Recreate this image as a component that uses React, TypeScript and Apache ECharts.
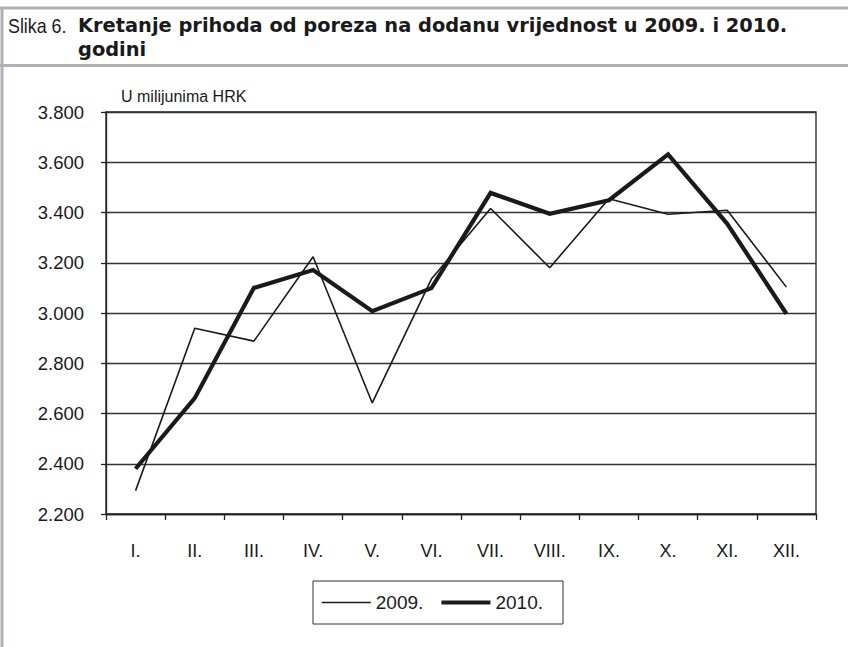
import React, { useEffect, useRef } from "react";
import * as echarts from "echarts";

const months = ["I.", "II.", "III.", "IV.", "V.", "VI.", "VII.", "VIII.", "IX.", "X.", "XI.", "XII."];
const values2009 = [2293, 2939, 2888, 3224, 2642, 3135, 3416, 3180, 3455, 3393, 3409, 3103];
const values2010 = [2380, 2661, 3100, 3171, 3007, 3099, 3478, 3395, 3449, 3631, 3355, 2997];
const seriesNames = ["2009.", "2010."];
const yMin = 2200;
const yMax = 3800;
const yStep = 200;

const titlePrefix = "Slika 6.";
const titleLine1 = "Kretanje prihoda od poreza na dodanu vrijednost u 2009. i 2010.";
const titleLine2 = "godini";
const unitLabel = "U milijunima HRK";

export default function App() {
  const ref = useRef<HTMLDivElement>(null);
  useEffect(() => {
    if (!ref.current) return;
    const chart = echarts.init(ref.current, undefined, { renderer: "svg" });
    const ink = "#1a1a1a";
    const frame = "#aeb0b6";
    const thin = 1.6;
    const thick = 4.2;
    chart.setOption({
      animation: false,
      backgroundColor: "#ffffff",
      textStyle: { fontFamily: "Liberation Sans, Arial, sans-serif" },
      graphic: [
        { type: "line", shape: { x1: 0, y1: 8, x2: 848, y2: 8 }, style: { stroke: frame, lineWidth: 3 } },
        { type: "line", shape: { x1: 0, y1: 65.5, x2: 848, y2: 65.5 }, style: { stroke: frame, lineWidth: 3 } },
        { type: "line", shape: { x1: 2, y1: 7, x2: 2, y2: 647 }, style: { stroke: frame, lineWidth: 3 } },
        {
          type: "text", x: 8, y: 25, scaleX: 0.85,
          style: { text: titlePrefix, fill: ink, font: "21px 'Liberation Sans', Arial, sans-serif", verticalAlign: "middle" },
        },
        {
          type: "text", x: 78, y: 25,
          style: { text: titleLine1, fill: ink, font: "bold 19.4px 'DejaVu Sans', sans-serif", verticalAlign: "middle" },
        },
        {
          type: "text", x: 78, y: 49,
          style: { text: titleLine2, fill: ink, font: "bold 19.4px 'DejaVu Sans', sans-serif", verticalAlign: "middle" },
        },
        {
          type: "text", x: 121, y: 96,
          style: { text: unitLabel, fill: ink, font: "16px 'Liberation Sans', Arial, sans-serif", verticalAlign: "middle" },
        },
      ],
      grid: {
        left: 106, top: 112, right: 32, bottom: 133,
        show: true, borderColor: "#222", borderWidth: 1.3, backgroundColor: "transparent",
      },
      legend: {
        data: [
          { name: seriesNames[0], lineStyle: { width: thin, color: ink } },
          { name: seriesNames[1], lineStyle: { width: thick, color: ink } },
        ],
        left: 313, top: 581,
        orient: "horizontal",
        borderColor: "#333", borderWidth: 1,
        padding: [12, 20, 12, 8],
        itemWidth: 49, itemHeight: 16, itemGap: 16,
        itemStyle: { opacity: 0 },
        textStyle: { fontSize: 19, color: ink, fontFamily: "Liberation Sans, Arial, sans-serif" },
      },
      xAxis: {
        type: "category",
        data: months,
        boundaryGap: true,
        axisLine: { lineStyle: { color: "#222", width: 1.3 } },
        axisTick: { show: true, length: 6, interval: 0, lineStyle: { color: "#222", width: 1.3 } },
        axisLabel: { interval: 0, margin: 28, fontSize: 18, color: ink, fontFamily: "Liberation Sans, Arial, sans-serif" },
        splitLine: { show: false },
      },
      yAxis: {
        type: "value",
        min: yMin, max: yMax, interval: yStep,
        axisLine: { show: true, lineStyle: { color: "#222", width: 1.3 } },
        axisTick: { show: true, length: 5, lineStyle: { color: "#222", width: 1.3 } },
        axisLabel: {
          margin: 22, fontSize: 18.5, color: ink, fontFamily: "Liberation Sans, Arial, sans-serif",
          formatter: (v: number) => (v / 1000).toFixed(3),
        },
        splitLine: { show: true, lineStyle: { color: "#333", width: 1.3 } },
      },
      series: [
        {
          name: seriesNames[0], type: "line", data: values2009,
          symbol: "none", showSymbol: false,
          lineStyle: { color: ink, width: thin },
          itemStyle: { color: ink },
        },
        {
          name: seriesNames[1], type: "line", data: values2010,
          symbol: "none", showSymbol: false,
          lineStyle: { color: ink, width: thick, join: "miter" },
          itemStyle: { color: ink },
        },
      ],
    });
    return () => chart.dispose();
  }, []);
  return (
    <div
      ref={ref}
      style={{ position: "fixed", left: 0, top: 0, width: 848, height: 647, background: "#fff" }}
    />
  );
}
